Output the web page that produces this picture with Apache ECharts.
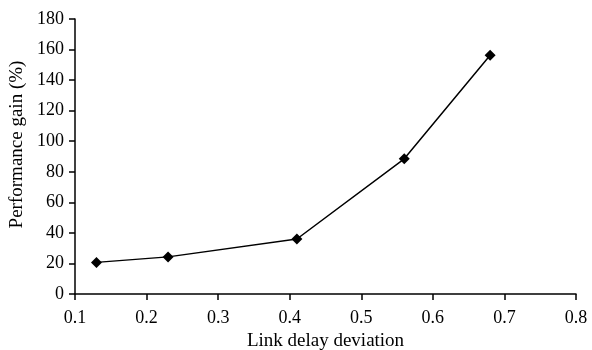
<!DOCTYPE html>
<html>
<head>
<meta charset="utf-8">
<script src="https://cdn.jsdelivr.net/npm/echarts@6/dist/echarts.min.js"></script>
<style>
  html, body { margin: 0; padding: 0; background: #fff; }
  #chart { width: 592px; height: 350px; }
</style>
</head>
<body>
<div id="chart"></div>
<script>
// link delay deviation vs performance gain
const deviation = [0.13, 0.23, 0.41, 0.56, 0.68]
const gain = [20.7, 24.3, 36, 88.5, 156.3]

const font = 'Liberation Serif'
const chart = echarts.init(document.getElementById('chart'))

chart.setOption({
  animation: false,
  grid: { left: 75, right: 16, top: 19, bottom: 56, outerBoundsMode: 'none', containLabel: false },
  xAxis: {
    type: 'value',
    min: 0.1,
    max: 0.8,
    interval: 0.1,
    name: 'Link delay deviation',
    nameLocation: 'middle',
    nameGap: 36,
    nameTextStyle: { color: '#000', fontFamily: font, fontSize: 19 },
    axisLine: { lineStyle: { color: '#000', width: 1.5 } },
    axisTick: { show: true, inside: false, length: 6, lineStyle: { color: '#000', width: 1.5 } },
    axisLabel: { color: '#000', fontFamily: font, fontSize: 18, margin: 15, formatter: v => v.toFixed(1) },
    splitLine: { show: false }
  },
  yAxis: {
    type: 'value',
    min: 0,
    max: 180,
    interval: 20,
    name: 'Performance gain (%)',
    nameLocation: 'middle',
    nameGap: 46,
    nameTextStyle: { color: '#000', fontFamily: font, fontSize: 19, padding: [0, 0, 0, 24] },
    axisLine: { show: true, lineStyle: { color: '#000', width: 1.5 } },
    axisTick: { show: true, inside: false, length: 6, lineStyle: { color: '#000', width: 1.5 } },
    axisLabel: { color: '#000', fontFamily: font, fontSize: 18, margin: 11 },
    splitLine: { show: false }
  },
  series: [
    {
      type: 'line',
      data: deviation.map((x, i) => [x, gain[i]]),
      symbol: 'diamond',
      symbolSize: 11,
      itemStyle: { color: '#000' },
      lineStyle: { color: '#000', width: 1.5 }
    }
  ]
})
</script>
</body>
</html>
